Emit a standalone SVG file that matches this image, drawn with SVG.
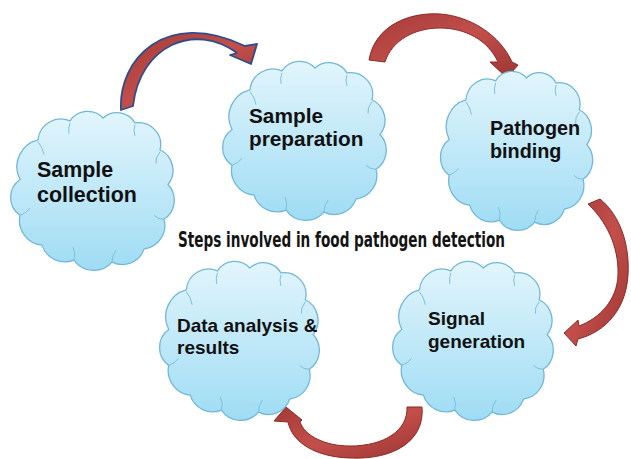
<svg xmlns="http://www.w3.org/2000/svg" width="631" height="459" viewBox="0 0 631 459">
<style>
.lbl{font-family:"Liberation Sans",Arial,sans-serif;font-weight:bold;fill:#111}
.title{font-family:"DejaVu Sans Condensed","DejaVu Sans",sans-serif;font-weight:bold;font-stretch:condensed;fill:#141414}
.arrow{fill:url(#redGrad);stroke:#8a2b28;stroke-width:1;stroke-linejoin:round}
.arrow.blue{stroke:#2f4d8c;stroke-width:1.8}
.crease{fill:none;stroke:#7cc1dc;stroke-width:1;vector-effect:non-scaling-stroke}
</style>
<defs>
<linearGradient id="cloudGrad" x1="0" y1="0" x2="0" y2="1">
<stop offset="0" stop-color="#e2f5fc"/>
<stop offset="1" stop-color="#9fdcf4"/>
</linearGradient>
<linearGradient id="redGrad" x1="0" y1="0" x2="1" y2="1">
<stop offset="0" stop-color="#a43a37"/>
<stop offset="0.5" stop-color="#c34f4b"/>
<stop offset="1" stop-color="#9c3532"/>
</linearGradient>
<g id="cloud">
<path d="M12,72 A28,28 0 0 1 30,32 A23,23 0 0 1 62,13 A21,21 0 0 1 95,10 A21,21 0 0 1 127,15 A22,22 0 0 1 152,42 A23,23 0 0 1 160,77 A23,23 0 0 1 156,112 A24,24 0 0 1 136,142 A23,23 0 0 1 104,155 A24,24 0 0 1 66,153 A24,24 0 0 1 34,138 A25,25 0 0 1 12,108 A22,22 0 0 1 12,72 Z" fill="url(#cloudGrad)" stroke="#72b8d6" stroke-width="1.3" vector-effect="non-scaling-stroke"/>
<path class="crease" d="M30,34 Q35,40 36,47 M62,15 Q60,20 61,26 M127,17 Q125,22 127,28 M152,44 Q147,50 148,56 M156,112 Q150,112 146,108 M104,155 Q104,148 108,143 M66,153 Q68,146 65,140 M12,108 Q18,106 22,101"/>
</g>
</defs>
<rect width="631" height="459" fill="#ffffff"/>
<g id="connectors">
<path class="arrow blue" d="M121,110 C118,60 165,8 245,46 L257,44 L251,64 L230,55 L237,53 C195,22 140,45 133,106 Z"/>
<path class="arrow" d="M369,60 C375,25 410,12 440,14 C470,16 500,35 512,62 L518,65 L507,78 L490,62 L498,62 C488,40 465,28 440,28 C415,28 392,40 385,62 Z"/>
<path class="arrow" d="M600,199 C620,215 630,245 628,275 C626,310 605,332 578,339 L576,346 L564,333 L578,320 L579,326 C600,318 617,300 618,275 C619,245 605,220 588,204 Z"/>
<path class="arrow" d="M422,407 C425,440 395,460 350,458 C315,457 292,442 288,422 L274,421 L286,407 L302,420 L300,422 C305,436 325,446 350,446 C385,446 408,430 407,407 Z"/>
</g>
<g id="node-sample-collection">
<use href="#cloud" transform="translate(8,108) scale(1,0.994)"/>
<text class="lbl" font-size="21.4"><tspan x="37" y="177">Sample</tspan><tspan x="37" y="202">collection</tspan></text>
</g>
<g id="node-sample-preparation">
<use href="#cloud" transform="translate(220,58) scale(1,0.994)"/>
<text class="lbl" font-size="20.8"><tspan x="249" y="123">Sample</tspan><tspan x="249" y="146">preparation</tspan></text>
</g>
<g id="node-pathogen-binding">
<use href="#cloud" transform="translate(438,68) scale(0.93,0.994)"/>
<text class="lbl" font-size="19.8"><tspan x="490" y="135">Pathogen</tspan><tspan x="490" y="158">binding</tspan></text>
</g>
<g id="node-data-analysis">
<use href="#cloud" transform="translate(157,258) scale(0.976,0.994)"/>
<text class="lbl" font-size="19"><tspan x="177" y="332">Data analysis &amp;</tspan><tspan x="177" y="354">results</tspan></text>
</g>
<g id="node-signal-generation">
<use href="#cloud" transform="translate(390,258) scale(0.982,0.994)"/>
<text class="lbl" font-size="19"><tspan x="428" y="325">Signal</tspan><tspan x="428" y="348">generation</tspan></text>
</g>
<text id="title" class="title" x="178" y="247" font-size="21" textLength="327" lengthAdjust="spacingAndGlyphs">Steps involved in food pathogen detection</text>
</svg>
